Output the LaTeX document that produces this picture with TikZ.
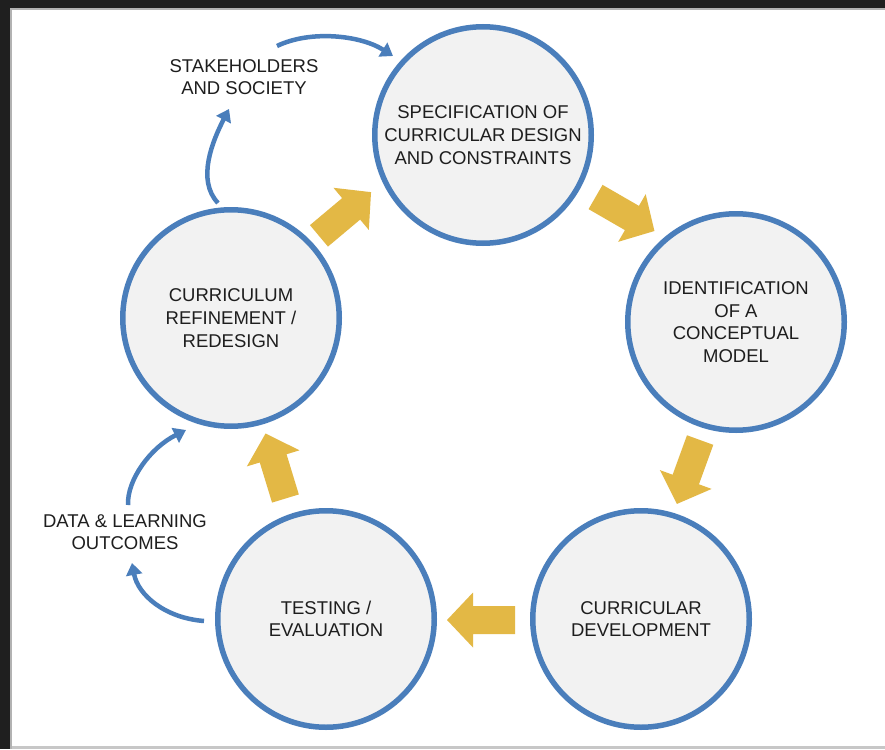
\documentclass[tikz,border=0pt]{standalone}
\usepackage{fontspec}
\setmainfont{Liberation Sans}
\usetikzlibrary{arrows.meta,calc}
\definecolor{cblue}{RGB}{74,126,187}
\definecolor{cfill}{RGB}{242,242,242}
\definecolor{cyellow}{RGB}{227,184,69}
\definecolor{ctext}{RGB}{30,30,30}
\tikzset{
  stage/.style={circle, draw=cblue, line width=5.5pt, fill=cfill, minimum size=216.5pt,
    inner sep=0pt, align=center, text=ctext, font=\fontsize{18.5}{22.7}\selectfont},
  note/.style={align=center, text=ctext, font=\fontsize{18.5}{21.5}\selectfont, inner sep=0pt},
  feed/.style={draw=cblue, line width=4.5pt, -{Triangle[length=12pt,width=16pt]}},
  pics/blockarrow/.style={code={
    \fill[cyellow] (-34pt,-14pt) -- (8pt,-14pt) -- (8pt,-27.5pt) -- (34pt,0pt)
      -- (8pt,27.5pt) -- (8pt,14pt) -- (-34pt,14pt) -- cycle;}}
}
\begin{document}
\begin{tikzpicture}[x=1pt,y=-1pt]
\useasboundingbox (0,0) rectangle (885,749);
\fill[white] (0,0) rectangle (885,749);
% frame
\fill[black!88] (0,0) rectangle (885,8);
\fill[black!88] (0,0) rectangle (10,749);
\fill[black!30] (10,8) rectangle (885,10);
\fill[black!30] (10,8) rectangle (12,749);
\fill[black!22] (12,746) rectangle (885,749);

% stages
\node[stage] (spec) at (483,135) {SPECIFICATION OF\\CURRICULAR DESIGN\\AND CONSTRAINTS};
\node[stage] (ident) at (736,322) {IDENTIFICATION\\OF A\\CONCEPTUAL\\MODEL};
\node[stage] (dev) at (641,619) {CURRICULAR\\DEVELOPMENT};
\node[stage] (test) at (326,619) {TESTING /\\EVALUATION};
\node[stage] (refine) at (231,318) {CURRICULUM\\REFINEMENT /\\REDESIGN};

% labels
\node[note] (stake) at (244,77) {STAKEHOLDERS\\AND SOCIETY};
\node[note] (data) at (125,532) {DATA \& LEARNING\\OUTCOMES};

% yellow block arrows
\pic[rotate=-30] at ($(spec)!0.5!(ident)+(15.5,-14.5)$) {blockarrow};
\pic[rotate=-110] at ($(ident)!0.5!(dev)+(0,1.5)$) {blockarrow};
\pic[rotate=180] at ($(dev)!0.5!(test)+(-2.5,1)$) {blockarrow};
\pic[rotate=107] at ($(test)!0.5!(refine)+(-3,-2.5)$) {blockarrow};
\pic[rotate=40] at ($(refine)!0.5!(spec)+(-12,-12.5)$) {blockarrow};

% feedback arrows
\coordinate (r1) at (218,203);
\coordinate (s1) at (229,109);
\coordinate (s2) at (277,46);
\coordinate (p1) at (393,56);
\coordinate (t1) at (204,621);
\coordinate (d1) at (132,563);
\coordinate (d2) at (128,505);
\coordinate (r2) at (186,430);
\draw[feed] (r1) .. controls (196,180) and (213,140) .. (s1);
\draw[feed] (s2) .. controls (310,30) and (360,35) .. (p1);
\draw[feed] (t1) .. controls (165,618) and (138,595) .. (d1);
\draw[feed] (d2) .. controls (127,480) and (150,448) .. (r2);
\end{tikzpicture}
\end{document}
